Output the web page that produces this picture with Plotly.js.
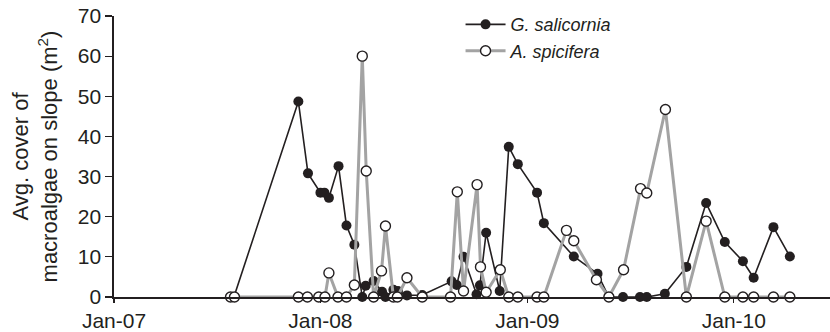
<!DOCTYPE html>
<html>
<head>
<meta charset="utf-8">
<script src="https://cdn.plot.ly/plotly-3.0.1.min.js"></script>
<style>html,body{margin:0;padding:0;background:#fff}#chart{width:830px;height:332px}</style>
</head>
<body>
<div id="chart"></div>
<script>
// G. salicornia (filled markers)
const gsDates = ['2007-08-01','2007-11-23','2007-12-10','2008-01-01','2008-01-08','2008-01-16','2008-02-02','2008-02-16','2008-03-01','2008-03-15','2008-03-21','2008-04-04','2008-04-19','2008-04-25','2008-05-09','2008-05-17','2008-06-02','2008-06-29','2008-08-20','2008-08-29','2008-09-10','2008-10-03','2008-10-09','2008-10-20','2008-11-13','2008-11-29','2008-12-15','2009-01-18','2009-01-30','2009-03-24','2009-05-05','2009-05-25','2009-06-19','2009-07-19','2009-07-31','2009-09-01','2009-10-09','2009-11-13','2009-12-16','2010-01-17','2010-02-05','2010-03-12','2010-04-10'];
const gsValues = [0,48.7,30.8,26.0,26.0,24.7,32.6,17.8,13.0,0,2.8,4.0,1.3,0,1.8,1.5,0.4,0.5,3.9,3.0,10.0,0.7,2.9,16.0,1.5,37.4,33.1,26.0,18.4,10.1,5.8,0,0,0,0,0.8,7.5,23.4,13.7,8.9,4.8,17.4,10.1];

// A. spicifera (open markers)
const asDates = ['2007-07-26','2007-08-02','2007-11-23','2007-12-09','2007-12-29','2008-01-09','2008-01-16','2008-02-01','2008-02-16','2008-03-01','2008-03-15','2008-03-22','2008-04-04','2008-04-18','2008-04-25','2008-05-09','2008-05-16','2008-06-02','2008-06-29','2008-08-18','2008-08-30','2008-09-10','2008-10-04','2008-10-10','2008-10-20','2008-11-14','2008-11-29','2008-12-15','2009-01-18','2009-01-30','2009-03-11','2009-03-24','2009-05-03','2009-05-25','2009-06-20','2009-07-20','2009-07-31','2009-09-02','2009-10-09','2009-11-13','2009-12-16','2010-01-17','2010-02-05','2010-03-12','2010-04-10'];
const asValues = [0,0,0,0,0,0,6.0,0,0,3.0,60.0,31.4,0,6.5,17.7,0,0,4.8,0,0,26.2,1.5,28.0,7.5,1.2,6.8,0,0,0,0,16.6,14.0,4.3,0,6.8,27.0,25.9,46.7,0,18.9,0,0,0,0,0];

const xTickVals = ['2007-01-01','2008-01-01','2009-01-01','2010-01-01'];
const xTickText = ['Jan-07','Jan-08','Jan-09','Jan-10'];
const yTickVals = [0,10,20,30,40,50,60,70];

const ink = '#231f20';
const FONT = 'Liberation Sans, Arial, Helvetica, sans-serif';

const traces = [
  {
    x: gsDates, y: gsValues, type: 'scatter', mode: 'lines+markers',
    name: '<i>G. salicornia</i>', cliponaxis: false,
    line: {color: ink, width: 1.6},
    marker: {symbol: 'circle', size: 10, color: ink, line: {width: 0}}
  },
  {
    x: asDates, y: asValues, type: 'scatter', mode: 'lines+markers',
    name: '<i>A. spicifera</i>', cliponaxis: false,
    line: {color: '#a3a3a3', width: 3},
    marker: {symbol: 'circle', size: 10, color: '#ffffff', line: {width: 1.4, color: ink}}
  }
];

const layout = {
  width: 830, height: 332,
  margin: {l: 114, r: 0, t: 16, b: 35, pad: 0},
  paper_bgcolor: '#ffffff', plot_bgcolor: '#ffffff',
  font: {family: FONT, color: ink},
  showlegend: true,
  legend: {
    x: 0.484, y: 1.035, xanchor: 'left', yanchor: 'top',
    bgcolor: 'rgba(0,0,0,0)', borderwidth: 0,
    font: {family: FONT, size: 18, color: ink},
    itemwidth: 40, tracegroupgap: 0
  },
  xaxis: {
    type: 'date',
    range: ['2007-01-01', '2010-06-20'],
    tickmode: 'array', tickvals: xTickVals, ticktext: xTickText,
    ticks: 'outside', ticklen: 4, tickwidth: 1.2, tickcolor: ink,
    showline: true, linecolor: ink, linewidth: 1.6,
    showgrid: false, zeroline: false,
    tickfont: {family: FONT, size: 21, color: ink}
  },
  yaxis: {
    range: [0, 70],
    tickmode: 'array', tickvals: yTickVals,
    ticks: 'outside', ticklen: 7, tickwidth: 1.2, tickcolor: ink,
    showline: true, linecolor: ink, linewidth: 1.6,
    showgrid: false, zeroline: false,
    tickfont: {family: FONT, size: 21, color: ink},
    title: {text: 'Avg. cover of<br>macroalgae on slope (m<sup>2</sup>)', font: {family: FONT, size: 22, color: ink}, standoff: 14}
  }
};

Plotly.newPlot('chart', traces, layout, {displayModeBar: false, staticPlot: true});
</script>
</body>
</html>
